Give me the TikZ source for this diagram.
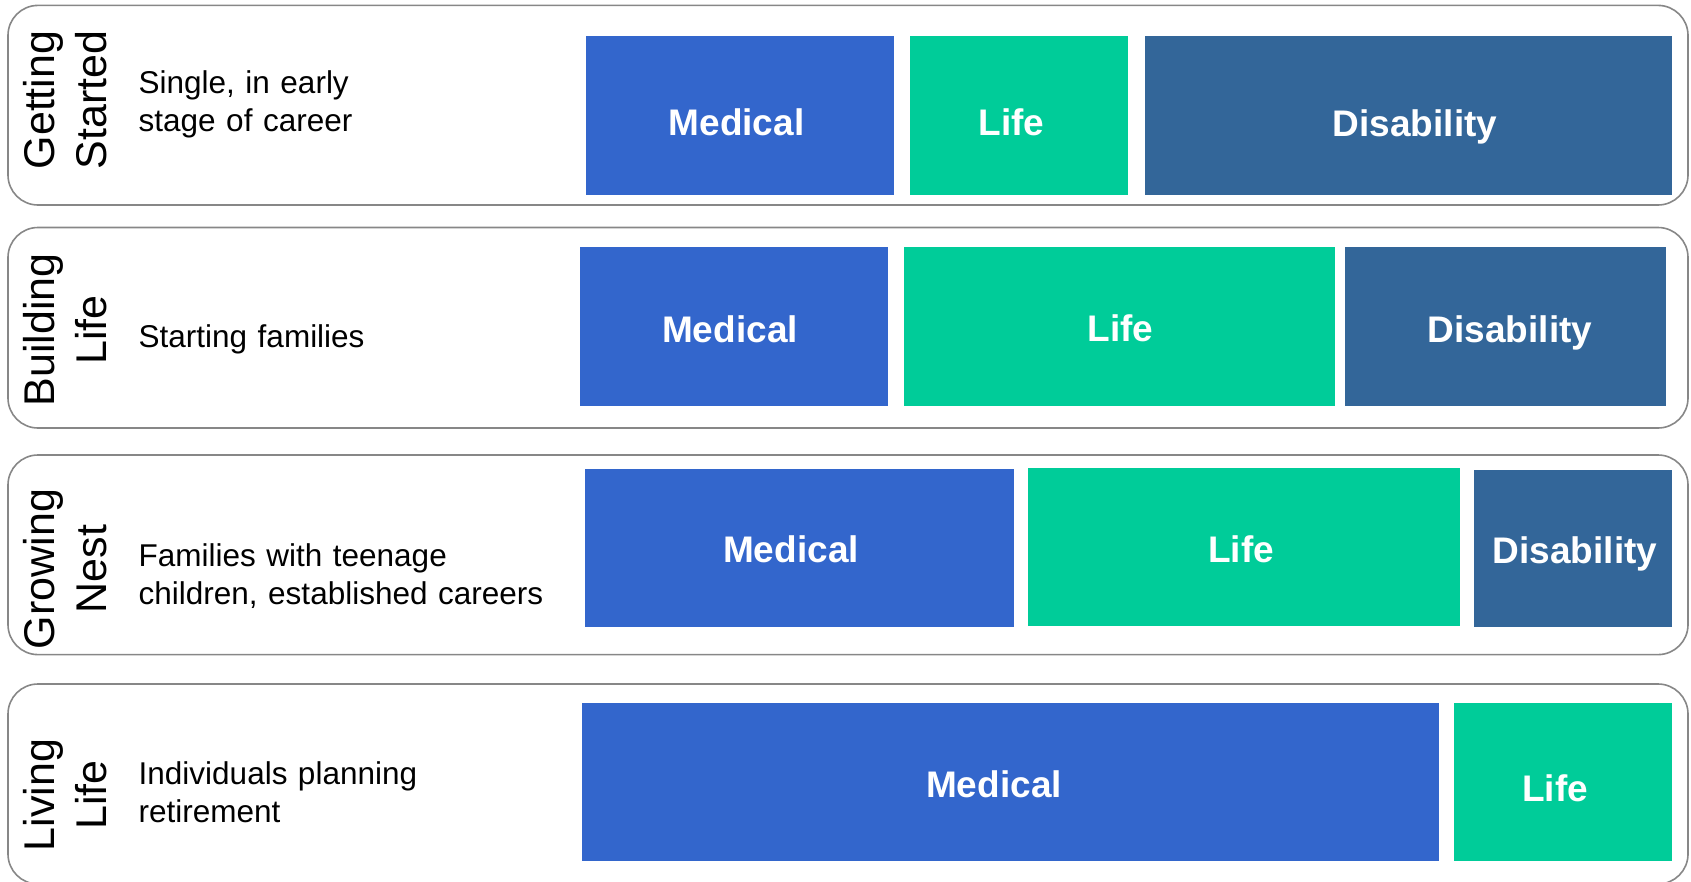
\documentclass[tikz,border=0pt]{standalone}
\usepackage{fontspec}
\setmainfont{Liberation Sans}
\usetikzlibrary{fit}
\definecolor{medblue}{HTML}{3366CC}
\definecolor{lifegreen}{HTML}{00CC99}
\definecolor{disblue}{HTML}{336699}
\definecolor{bandline}{HTML}{878787}

\begin{document}
\begin{tikzpicture}[x=1pt,y=-1pt,
  band/.style={draw=bandline, line width=1.6pt, rounded corners=30pt, inner sep=0pt},
  block/.style={inner sep=0pt, draw=none},
  med/.style={block, fill=medblue},
  lif/.style={block, fill=lifegreen},
  dis/.style={block, fill=disblue},
  cover/.style={font=\fontsize{37}{44}\selectfont\bfseries, text=white, anchor=base, inner sep=0pt},
  stage/.style={font=\fontsize{43}{52}\selectfont, rotate=90, anchor=base, align=center, text width=220pt, inner sep=0pt},
  blurb/.style={font=\fontsize{31.5}{38.8}\selectfont, anchor=base west, align=left, text width=420pt, inner sep=0pt}]

\useasboundingbox (0,0) rectangle (1691,881);
\clip (0,0) rectangle (1691,881);

% life-stage bands
\node[band, fit={(8,5.4) (1688,205)}] (bandA) {};
\node[band, fit={(8,227.5) (1688,428)}] (bandB) {};
\node[band, fit={(8,455) (1688,654.6)}] (bandC) {};
\node[band, fit={(8,684) (1688,884)}] (bandD) {};

% stage names
\node[stage] (stA) at (54,100) {Getting\\Started};
\node[stage] (stB) at (54,330) {Building\\Life};
\node[stage] (stC) at (54,569) {Growing\\Nest};
\node[stage] (stD) at (54,795) {Living\\Life};

% stage descriptions
\node[blurb] (dsA) at (138.5,93) {Single, in early\\stage of career};
\node[blurb] (dsB) at (138.5,347) {Starting families};
\node[blurb] (dsC) at (138.5,566) {Families with teenage\\children, established careers};
\node[blurb] (dsD) at (138.5,784) {Individuals planning\\retirement};

% coverage blocks, row 1
\node[med, fit={(585.6,35.6) (894,195.2)}] (mA) {};
\node[lif, fit={(910,35.6) (1128,195.2)}] (lA) {};
\node[dis, fit={(1145,35.6) (1671.5,195.2)}] (dA) {};
\node[cover] at (736.5,135) {Medical};
\node[cover] at (1011.5,135) {Life};
\node[cover] at (1415,136) {Disability};

% row 2
\node[med, fit={(580,247) (887.5,405.5)}] (mB) {};
\node[lif, fit={(903.7,247) (1335,405.5)}] (lB) {};
\node[dis, fit={(1345,247) (1666,405.5)}] (dB) {};
\node[cover] at (730,342) {Medical};
\node[cover] at (1120.5,341) {Life};
\node[cover] at (1510,342) {Disability};

% row 3
\node[med, fit={(584.5,469) (1013.7,626.5)}] (mC) {};
\node[lif, fit={(1027.7,468) (1460,625.5)}] (lC) {};
\node[dis, fit={(1474,470) (1672,626.5)}] (dC) {};
\node[cover] at (791,562.7) {Medical};
\node[cover] at (1241,562) {Life};
\node[cover] at (1575,563) {Disability};

% row 4
\node[med, fit={(582,703) (1438.6,860.6)}] (mD) {};
\node[lif, fit={(1453.7,703) (1671.5,860.6)}] (lD) {};
\node[cover] at (994,797) {Medical};
\node[cover] at (1555,801) {Life};

\end{tikzpicture}
\end{document}
